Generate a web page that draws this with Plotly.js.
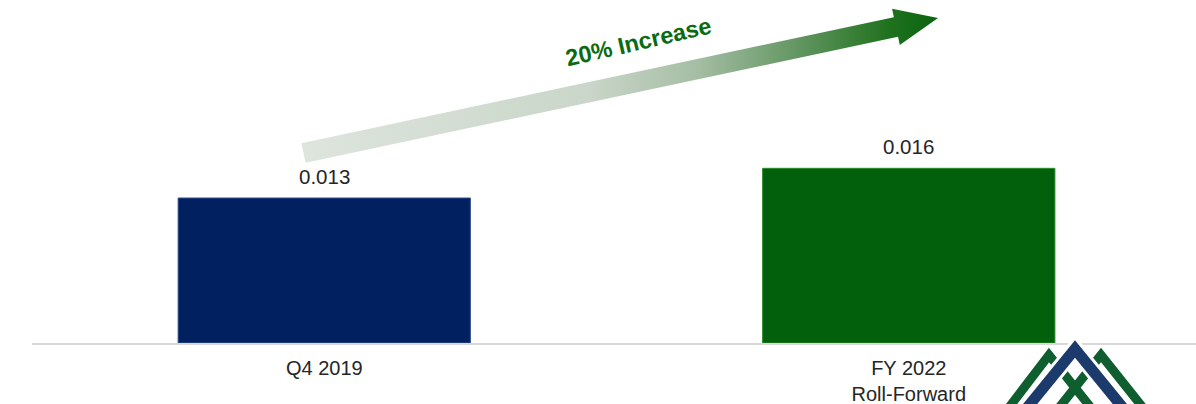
<!DOCTYPE html>
<html>
<head>
<meta charset="utf-8">
<script src="https://cdn.plot.ly/plotly-3.0.1.min.js"></script>
<style>
  html, body { margin: 0; padding: 0; background: #ffffff; }
  #chart { width: 1196px; height: 404px; }
</style>
</head>
<body>
<div id="chart"></div>
<script>
// ---- data ----
const categories = ["Q4 2019", "FY 2022<br>Roll-Forward"];
const values = [0.0132, 0.0159];
const valueLabels = ["0.013", "0.016"];
const barColors = ["#002060", "#02600c"];
const barEdgeColors = ["#34508c", "#2a8a2a"];
const changeLabel = "20% Increase";

// ---- geometry helpers (figure pixels -> paper / overlay coordinates) ----
const W = 1196, H = 404;
const M = { l: 32, r: 0, t: 0, b: 61 };
const plotW = W - M.l - M.r, plotH = H - M.t - M.b;
const toPaperX = x => (x - M.l) / plotW;
const toPaperY = y => (H - M.b - y) / plotH;
const yMax = values[0] * plotH / 145;

// decorative gradient arrow, built on an overlay axis in pixel units
function arrowPolygon(tail, tip, shaftHalf, headHalf, headLen) {
  const dx = tip[0] - tail[0], dy = tip[1] - tail[1];
  const L = Math.hypot(dx, dy);
  const ux = dx / L, uy = dy / L;
  const nx = -uy, ny = ux;
  const bx = tip[0] - ux * headLen, by = tip[1] - uy * headLen;
  const pts = [
    [tail[0] - nx * shaftHalf, tail[1] - ny * shaftHalf],
    [bx - nx * shaftHalf, by - ny * shaftHalf],
    [bx - nx * headHalf, by - ny * headHalf],
    tip,
    [bx + nx * headHalf, by + ny * headHalf],
    [bx + nx * shaftHalf, by + ny * shaftHalf],
    [tail[0] + nx * shaftHalf, tail[1] + ny * shaftHalf],
    [tail[0] - nx * shaftHalf, tail[1] - ny * shaftHalf]
  ];
  return { x: pts.map(p => p[0]), y: pts.map(p => p[1]) };
}
const arrow = arrowPolygon([303.5, 153], [938, 18], 10, 18.5, 43);

const traces = [
  {
    type: "bar",
    x: categories,
    y: values,
    marker: { color: barColors, line: { color: barEdgeColors, width: 1 } },
    hoverinfo: "skip"
  },
  {
    type: "scatter",
    mode: "lines",
    x: arrow.x,
    y: arrow.y,
    xaxis: "x2",
    yaxis: "y2",
    fill: "toself",
    line: { width: 0, color: "rgba(0,0,0,0)" },
    fillgradient: {
      type: "horizontal",
      colorscale: [
        [0, "#dde5dd"],
        [0.45, "#cad6c9"],
        [0.62, "#a6bea5"],
        [0.78, "#629661"],
        [0.92, "#21721f"],
        [1, "#0a640f"]
      ]
    },
    hoverinfo: "skip"
  }
];

const FONT = "Liberation Sans, Arial, sans-serif";

// value labels above bars
const annotations = categories.map((c, i) => ({
  x: c, y: values[i], xref: "x", yref: "y",
  text: valueLabels[i], showarrow: false,
  yanchor: "bottom", yshift: 8,
  font: { family: FONT, size: 20.5, color: "#262626" }
}));
annotations.push({
  x: toPaperX(638), y: toPaperY(42), xref: "paper", yref: "paper",
  text: "<b>" + changeLabel + "</b>", showarrow: false, textangle: -13,
  xanchor: "center", yanchor: "middle",
  font: { family: FONT, size: 23.5, color: "#0b6b12" }
});

// decorative logo (bottom right), paper coordinates
function pathFrom(points) {
  return points.map((p, i) => (i ? "L" : "M") + toPaperX(p[0]).toFixed(5) + "," + toPaperY(p[1]).toFixed(5)).join(" ");
}
const green = "#0f5e2f", blue = "#1d3a6d";
const shapes = [
  { type: "path", xref: "paper", yref: "paper", path: pathFrom([[1004, 414], [1049, 355], [1096, 414]]), line: { color: green, width: 9 } },
  { type: "path", xref: "paper", yref: "paper", path: pathFrom([[1148, 414], [1101, 355], [1054, 414]]), line: { color: green, width: 9 } },
  { type: "path", xref: "paper", yref: "paper", path: pathFrom([[1022, 414], [1075, 349], [1128, 414]]), line: { color: "#ffffff", width: 17 } },
  { type: "path", xref: "paper", yref: "paper", path: pathFrom([[1022, 414], [1075, 349], [1128, 414]]), line: { color: blue, width: 11 } }
];

const layout = {
  width: W, height: H,
  margin: M,
  paper_bgcolor: "#ffffff",
  plot_bgcolor: "#ffffff",
  showlegend: false,
  bargap: 0.5,
  font: { family: FONT, size: 20, color: "#262626" },
  xaxis: {
    type: "category",
    range: [-0.5, 1.4914],
    showline: true, linecolor: "#d9d9d9", linewidth: 2,
    showgrid: false, zeroline: false, ticks: "",
    ticklabelstandoff: 6,
    tickfont: { family: FONT, size: 20, color: "#262626" },
    fixedrange: true
  },
  yaxis: {
    range: [0, yMax],
    visible: false, showgrid: false, zeroline: false, fixedrange: true
  },
  xaxis2: { overlaying: "x", range: [M.l, W - M.r], visible: false, fixedrange: true },
  yaxis2: { overlaying: "y", range: [H - M.b, M.t], visible: false, fixedrange: true },
  annotations: annotations,
  shapes: shapes
};

Plotly.newPlot("chart", traces, layout, { staticPlot: true, displayModeBar: false });
</script>
</body>
</html>
